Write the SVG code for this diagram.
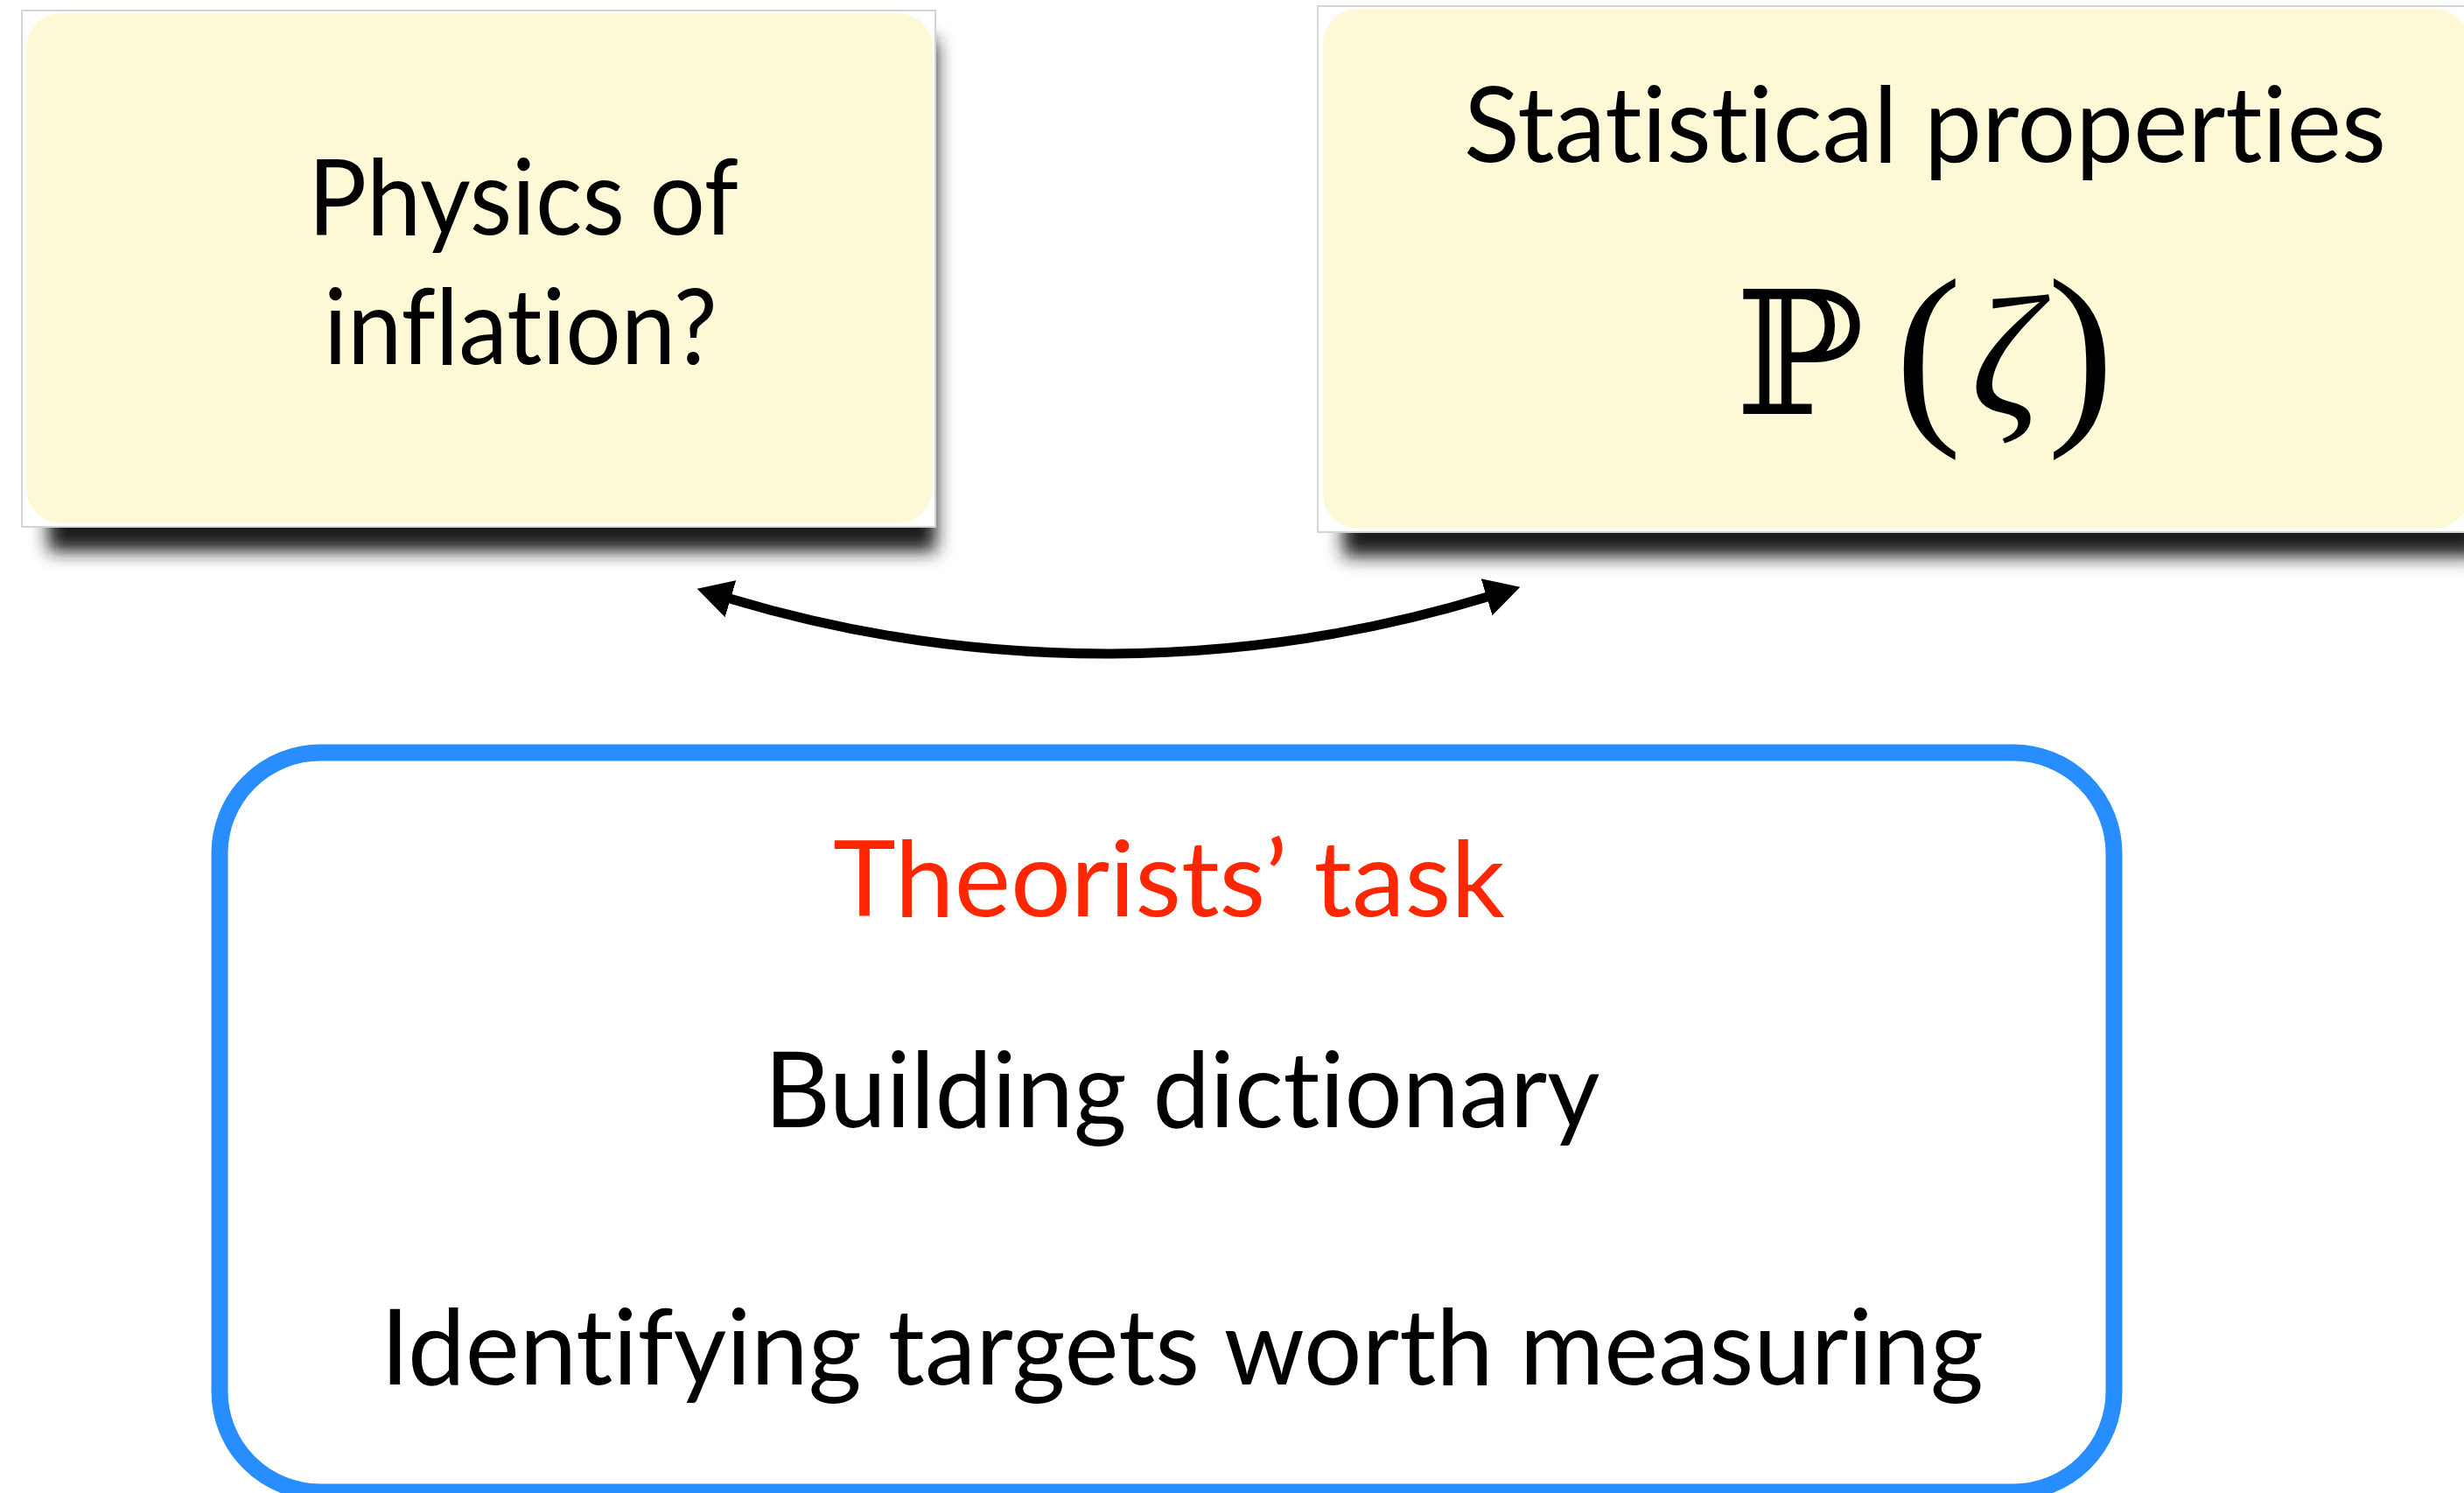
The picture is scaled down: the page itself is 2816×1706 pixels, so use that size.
<svg xmlns="http://www.w3.org/2000/svg" width="2816" height="1706" viewBox="0 0 2816 1706">
  <defs>
    <style>
      .label { font-family: "Lato", "Liberation Sans", sans-serif; font-size: 120px; fill: #000; text-anchor: middle; font-variant-ligatures: none; font-feature-settings: "liga" 0, "clig" 0, "dlig" 0; }
      .frame { fill: #ffffff; stroke: #d4d4d4; stroke-width: 2; }
      .card { fill: #fdf8d5; }
      .shadow { fill: #1a1a1a; filter: url(#blur); }
      .math { font-family: "Liberation Serif", "DejaVu Serif", serif; fill: #000; text-anchor: middle; }
    </style>
    <filter id="blur" x="-10%" y="-10%" width="120%" height="130%">
      <feGaussianBlur stdDeviation="10"/>
    </filter>
    <marker id="head" markerUnits="userSpaceOnUse" markerWidth="42" markerHeight="46" refX="1" refY="22" orient="auto-start-reverse" viewBox="0 0 42 44">
      <path d="M0,0 L40,22 L0,44 Z" fill="#000"/>
    </marker>
  </defs>
  <rect width="2816" height="1706" fill="#ffffff"/>

  <g id="node-physics">
    <rect class="shadow" x="55" y="45" width="1015" height="585"/>
    <rect class="frame" x="25" y="12" width="1044" height="590"/>
    <rect class="card" x="30" y="15" width="1036" height="583" rx="40" ry="40"/>
    <text class="label" x="598" y="268" textLength="492" lengthAdjust="spacingAndGlyphs">Physics of</text>
    <text class="label" x="595" y="416" textLength="450" lengthAdjust="spacingAndGlyphs">inflation?</text>
  </g>

  <g id="node-statistics">
    <rect class="shadow" x="1535" y="40" width="1300" height="596"/>
    <rect class="frame" x="1506" y="7" width="1324" height="601"/>
    <rect class="card" x="1512" y="10" width="1310" height="594" rx="40" ry="40"/>
    <text class="label" x="2200" y="185" textLength="1054" lengthAdjust="spacingAndGlyphs">Statistical properties</text>
    <text class="math" x="2057" y="473" font-size="196" font-family="DejaVu Serif, serif">ℙ</text>
    <text class="math" x="2204" y="477" font-size="229">(</text>
    <text class="math" x="2292" y="473" font-size="196" font-style="italic">ζ</text>
    <text class="math" x="2378" y="477" font-size="229">)</text>
  </g>

  <g id="connectors">
    <path d="M834,684 A1497,1497 0 0 0 1700,682" fill="none" stroke="#000" stroke-width="11" marker-start="url(#head)" marker-end="url(#head)"/>
  </g>

  <g id="node-task">
    <rect x="251" y="860" width="2165" height="845" rx="115" ry="115" fill="#ffffff" stroke="#288dff" stroke-width="19"/>
    <text class="label" x="1336" y="1047" style="fill:#ff2600" textLength="768" lengthAdjust="spacingAndGlyphs">Theorists’ task</text>
    <text class="label" x="1351" y="1288" textLength="955" lengthAdjust="spacingAndGlyphs">Building dictionary</text>
    <text class="label" x="1351" y="1582" textLength="1832" lengthAdjust="spacingAndGlyphs">Identifying targets worth measuring</text>
  </g>
</svg>
